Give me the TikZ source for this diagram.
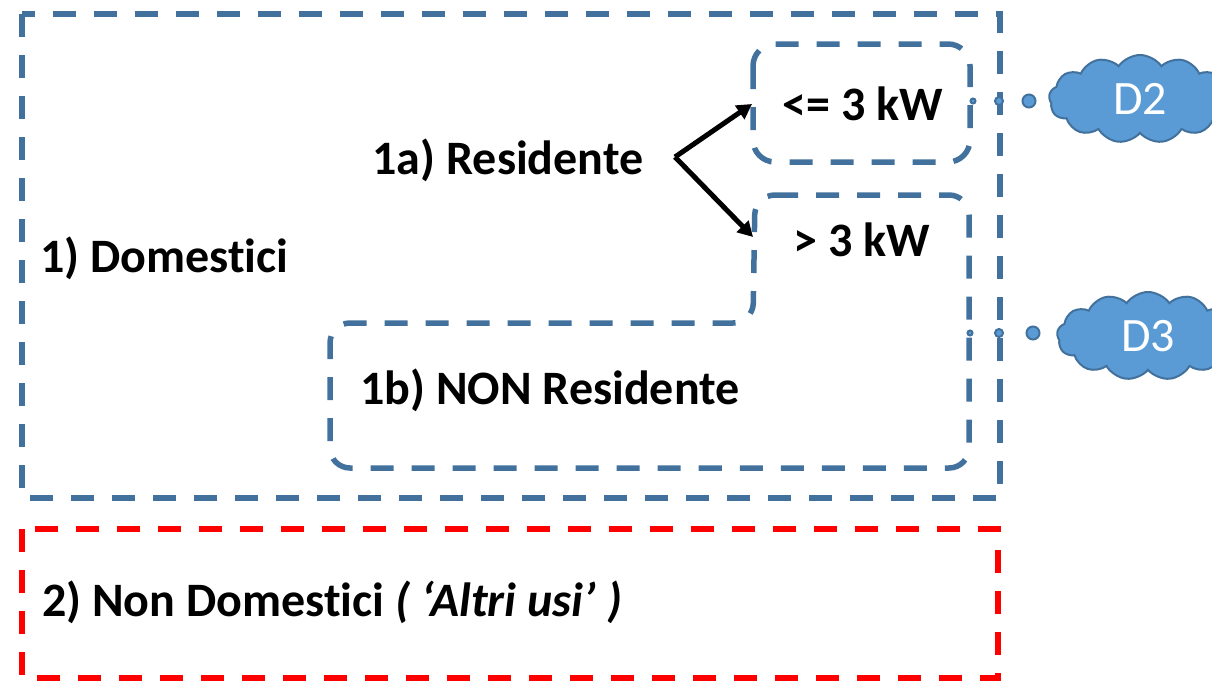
\documentclass[tikz,border=0pt]{standalone}
\usepackage{fontspec}
\setmainfont{Carlito}[Ligatures=NoCommon]
\usetikzlibrary{arrows.meta,shapes.symbols}
\definecolor{boxblue}{RGB}{65,113,156}
\definecolor{cloudfill}{RGB}{91,155,213}
\definecolor{boxred}{RGB}{255,0,0}
\begin{document}
\begin{tikzpicture}[x=1pt,y=-1pt,
  bluedash/.style={draw=boxblue,line width=5.5pt,dash pattern=on 23pt off 18pt},
  reddash/.style={draw=boxred,line width=6pt,dash pattern=on 23pt off 18pt},
  lbl/.style={font=\fontsize{48}{58}\selectfont\bfseries,inner sep=0pt},
  cloudnode/.style={cloud,cloud puffs=13,cloud puff arc=110,aspect=2.1,draw=boxblue,fill=cloudfill,line width=2pt,minimum width=182pt,minimum height=88pt,text=white,font=\fontsize{48}{58}\selectfont},
  bub/.style={circle,draw=boxblue,fill=cloudfill,line width=2pt,inner sep=0pt},
  arr/.style={line width=5pt,-{Triangle[length=15pt,width=16pt]}}]
\useasboundingbox (0,0) rectangle (1212,680);
\clip (0,0) rectangle (1212,680);
% outer boxes
\draw[bluedash] (22,14) rectangle (1000,498);
\draw[reddash] (22,529) rectangle (998,678);
% small box
\draw[bluedash,rounded corners=22pt] (753,44) rectangle (970,162);
% L-shaped box
\draw[bluedash,rounded corners=20pt] (755,195) -- (969,195) -- (969,468) -- (330,468) -- (330,323) -- (753,323) -- cycle;
% texts
\node[lbl,anchor=west] (dom) at (40,258) {1) Domestici};
\node[lbl] (res) at (508,160) {1a) Residente};
\node[lbl] (le) at (863,104) {<= 3 kW};
\node[lbl] (gt) at (862,240) {> 3 kW};
\node[lbl,anchor=west] (nonres) at (360,390) {1b) NON Residente};
\node[lbl,anchor=west] (nondom) at (42,602) {2) Non Domestici \textit{( ‘Altri usi’ )}};
% arrows
\coordinate (fork) at (675,157);
\coordinate (upend) at (752,104);
\coordinate (downend) at (753,237);
\draw[arr] (fork) -- (upend);
\draw[arr] (fork) -- (downend);
% clouds
\node[cloudnode] (d2) at (1140,99) {D2};
\node[cloudnode] (d3) at (1148,336) {D3};
\node[bub,minimum size=5pt] (b21) at (973,101) {};
\node[bub,minimum size=8pt] (b22) at (999,101) {};
\node[bub,minimum size=13pt] (b23) at (1029,101) {};
\node[bub,minimum size=5pt] (b31) at (970,333) {};
\node[bub,minimum size=8pt] (b32) at (999,333) {};
\node[bub,minimum size=13pt] (b33) at (1033,333) {};
\end{tikzpicture}
\end{document}
